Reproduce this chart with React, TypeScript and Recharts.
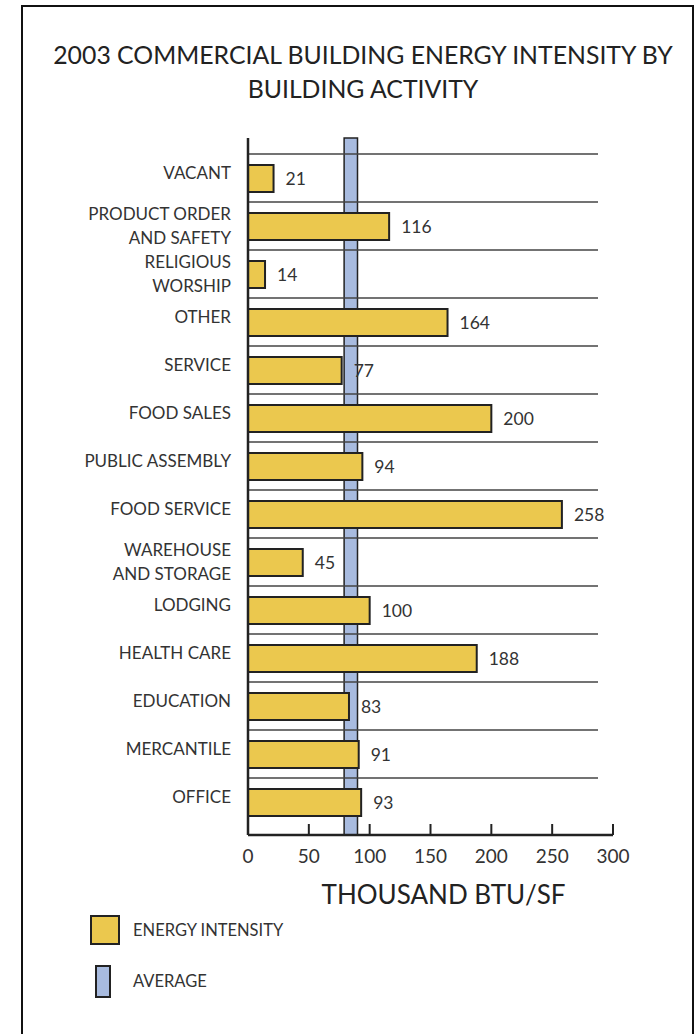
import React from 'react'
import { BarChart, Bar, XAxis, YAxis, CartesianGrid, ReferenceArea, LabelList, Legend } from 'recharts'

// building activities, top to bottom
const categories = [
  'VACANT',
  'PRODUCT ORDER\nAND SAFETY',
  'RELIGIOUS\nWORSHIP',
  'OTHER',
  'SERVICE',
  'FOOD SALES',
  'PUBLIC ASSEMBLY',
  'FOOD SERVICE',
  'WAREHOUSE\nAND STORAGE',
  'LODGING',
  'HEALTH CARE',
  'EDUCATION',
  'MERCANTILE',
  'OFFICE',
]

// thousand BTU per square foot
const intensity = [21, 116, 14, 164, 77, 200, 94, 258, 45, 100, 188, 83, 91, 93]

// the blue "average" band
const averageBand = [79, 90]

const xTicks = [0, 50, 100, 150, 200, 250, 300]

const FONT = 'Lato, "Open Sans", sans-serif'
const YELLOW = '#EBC84E'
const BLUE = '#A8BBDF'
const INK = '#333'
const PAD_TOP = 16
const PAD_BOTTOM = 9

const data = categories.map((name, i) => ({ name, value: intensity[i] }))

// separator lines sit between rows, not on the row centres
const rowBoundaries = ({ offset }: any) => {
  const top = offset.top + PAD_TOP
  const band = (offset.height - PAD_TOP - PAD_BOTTOM) / categories.length
  return categories.map((_, i) => top + i * band)
}

const SeparatorLine = (props: any) => (
  <line x1={props.x1} x2={props.x2 - 15} y1={props.y1} y2={props.y2} stroke="#444" strokeWidth={1.6} />
)

const CategoryTick = ({ x, y, payload }: any) => {
  const lines = String(payload.value).split('\n')
  const lineH = 24
  const shift = lines.length === 1 ? -5 : 0
  return (
    <text x={x} y={y + shift} textAnchor="end" fill={INK} fontSize={17} fontFamily={FONT}>
      {lines.map((l, i) => (
        <tspan key={i} x={x} dy={i === 0 ? -((lines.length - 1) * lineH) / 2 + 6 : lineH}>
          {l}
        </tspan>
      ))}
    </text>
  )
}

const LegendBox = () => (
  <div style={{ fontFamily: FONT, fontSize: 16.5, color: INK }}>
    <div style={{ display: 'flex', alignItems: 'center', height: 30 }}>
      <div style={{ width: 26, height: 26, background: YELLOW, border: '2px solid #222' }} />
      <span style={{ marginLeft: 13 }}>ENERGY INTENSITY</span>
    </div>
    <div style={{ display: 'flex', alignItems: 'center', height: 32, marginTop: 20 }}>
      <div style={{ width: 12, height: 29, background: BLUE, border: '2px solid #222', marginLeft: 5 }} />
      <span style={{ marginLeft: 22 }}>AVERAGE</span>
    </div>
  </div>
)

export default function App() {
  return (
    <div style={{ position: 'absolute', left: 0, top: 0, width: 700, height: 1034, background: '#fff', overflow: 'hidden' }}>
      <div style={{ position: 'absolute', left: 21, top: 5, width: 669, height: 1060, border: '2px solid #111' }} />
      <div
        style={{
          position: 'absolute', left: 28, top: 38, width: 670, textAlign: 'center',
          fontFamily: FONT, fontSize: 24.8, lineHeight: '34px', color: '#222',
        }}
      >
        2003 COMMERCIAL BUILDING ENERGY INTENSITY BY
        <br />
        BUILDING ACTIVITY
      </div>
      <div style={{ position: 'absolute', left: 0, top: 0 }}>
        <BarChart
          width={700}
          height={1034}
          data={data}
          layout="vertical"
          margin={{ top: 138, right: 87, bottom: 169, left: 0 }}
        >
          {/* no y1/y2: spans the whole unpadded height of the hidden axis */}
          <ReferenceArea
            x1={averageBand[0]}
            x2={averageBand[1]}
            yAxisId="band"
            fill={BLUE}
            fillOpacity={1}
            stroke="#222"
            strokeWidth={1.5}
            zIndex={-150}
          />
          <CartesianGrid
            vertical={false}
            horizontal={SeparatorLine}
            horizontalCoordinatesGenerator={rowBoundaries}
          />
          <XAxis
            type="number"
            domain={[0, 300]}
            ticks={xTicks}
            height={30}
            axisLine={{ stroke: '#222', strokeWidth: 2.5 }}
            tickLine={{ stroke: '#222', strokeWidth: 2 }}
            tickSize={-11}
            tickMargin={26}
            tick={{ fill: INK, fontSize: 19, fontFamily: FONT }}
            label={{ value: 'THOUSAND BTU/SF', position: 'bottom', offset: 21, dx: 13, fill: '#222', fontSize: 26, fontFamily: FONT }}
          />
          <YAxis
            type="category"
            dataKey="name"
            width={248}
            padding={{ top: PAD_TOP, bottom: PAD_BOTTOM }}
            axisLine={{ stroke: '#222', strokeWidth: 2.5 }}
            tickLine={false}
            tickSize={0}
            tickMargin={17}
            interval={0}
            tick={<CategoryTick />}
          />
          <YAxis yAxisId="band" type="category" dataKey="name" hide />
          <Bar dataKey="value" fill={YELLOW} stroke="#222" strokeWidth={2} barSize={27} isAnimationActive={false}>
            <LabelList dataKey="value" position="right" offset={12} fill={INK} fontSize={17.5} fontFamily={FONT} />
          </Bar>
          <Legend
            layout="vertical"
            align="center"
            verticalAlign="middle"
            content={<LegendBox />}
            wrapperStyle={{ left: 90, top: 915, width: 260 }}
          />
        </BarChart>
      </div>
    </div>
  )
}
